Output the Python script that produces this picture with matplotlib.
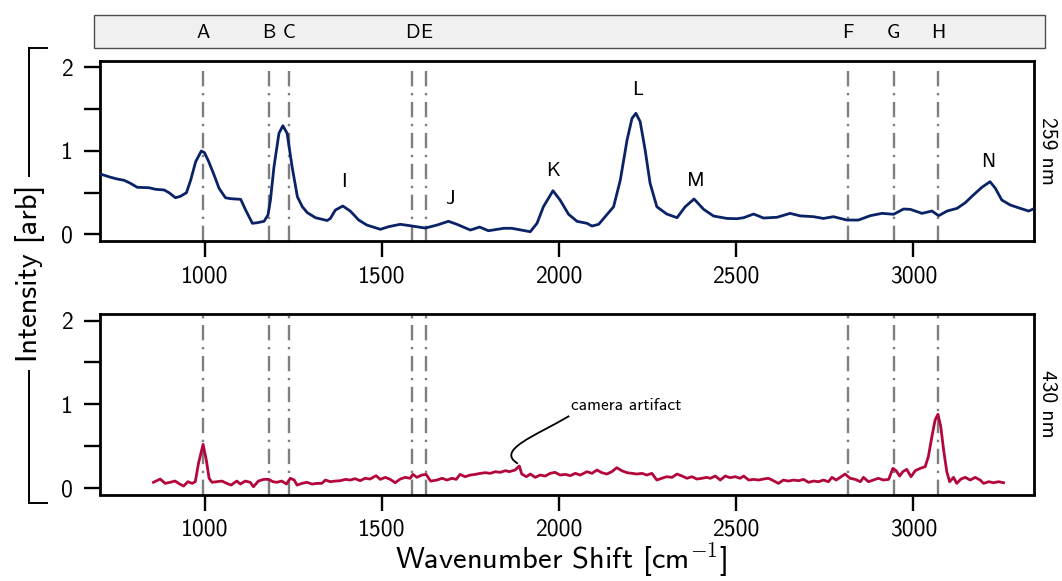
import matplotlib
matplotlib.use("Agg")
import matplotlib.pyplot as plt
import matplotlib.transforms as mtransforms
from matplotlib.lines import Line2D
from matplotlib.patches import Rectangle, PathPatch
from matplotlib.path import Path

plt.rcParams['font.family'] = ['cmss10', 'DejaVu Sans']
plt.rcParams['mathtext.fontset'] = 'cm'
plt.rcParams['axes.formatter.use_mathtext'] = True

# ---- spectra -------------------------------------------------------------
wn_259 = [706, 735, 754, 773, 791, 810, 843, 862, 886, 900, 918, 932, 949, 961, 975,
          991, 1000, 1012, 1027, 1041, 1059, 1073, 1102, 1116, 1135, 1149, 1168, 1179,
          1186, 1196, 1210, 1221, 1233, 1247, 1262, 1276, 1290, 1313, 1346, 1355, 1369,
          1390, 1411, 1435, 1458, 1496, 1519, 1552, 1580, 1623, 1656, 1688, 1712, 1750,
          1776, 1801, 1844, 1867, 1919, 1938, 1956, 1983, 2003, 2027, 2051, 2079, 2093,
          2112, 2126, 2154, 2173, 2192, 2206, 2217, 2229, 2243, 2257, 2276, 2304, 2333,
          2356, 2381, 2408, 2436, 2474, 2502, 2521, 2549, 2577, 2615, 2652, 2680, 2718,
          2746, 2774, 2812, 2845, 2878, 2911, 2944, 2972, 2991, 3024, 3052, 3071, 3095,
          3123, 3146, 3169, 3193, 3216, 3231, 3249, 3273, 3301, 3325, 3340]
int_259 = [0.722, 0.683, 0.662, 0.647, 0.611, 0.563, 0.558, 0.539, 0.531, 0.498, 0.438,
           0.455, 0.498, 0.650, 0.869, 0.998, 0.977, 0.869, 0.710, 0.551, 0.438, 0.427,
           0.419, 0.291, 0.132, 0.139, 0.156, 0.231, 0.411, 0.81, 1.21, 1.30, 1.21, 0.81,
           0.45, 0.33, 0.259, 0.199, 0.165, 0.19, 0.29, 0.339, 0.279, 0.171, 0.111, 0.06,
           0.091, 0.12, 0.103, 0.075, 0.111, 0.156, 0.12, 0.051, 0.087, 0.043, 0.072,
           0.072, 0.031, 0.132, 0.33, 0.522, 0.411, 0.24, 0.155, 0.132, 0.099, 0.12, 0.19,
           0.33, 0.65, 1.129, 1.389, 1.449, 1.349, 1.01, 0.611, 0.33, 0.243, 0.199, 0.33,
           0.423, 0.299, 0.219, 0.19, 0.187, 0.199, 0.243, 0.195, 0.204, 0.251, 0.221,
           0.211, 0.19, 0.211, 0.171, 0.171, 0.223, 0.251, 0.24, 0.303, 0.299, 0.251,
           0.279, 0.223, 0.279, 0.311, 0.378, 0.471, 0.563, 0.63, 0.551, 0.411, 0.351,
           0.311, 0.279, 0.307]

wn_430 = [856, 875, 889, 903, 917, 930, 941, 953, 965, 974, 983, 996, 1005, 1013, 1021,
          1035, 1049, 1063, 1075, 1091, 1101, 1115, 1129, 1138, 1152, 1167, 1181, 1193,
          1204, 1218, 1231, 1242, 1253, 1261, 1275, 1289, 1303, 1317, 1331, 1341, 1355,
          1369, 1383, 1397, 1411, 1425, 1439, 1453, 1467, 1484, 1496, 1510, 1524, 1538,
          1552, 1566, 1580, 1588, 1599, 1613, 1625, 1638, 1656, 1670, 1684, 1698, 1710,
          1721, 1735, 1750, 1764, 1778, 1792, 1806, 1820, 1834, 1849, 1860, 1876, 1888,
          1895, 1908, 1919, 1933, 1947, 1961, 1975, 1989, 2003, 2018, 2032, 2046, 2060,
          2079, 2093, 2107, 2121, 2135, 2149, 2163, 2177, 2192, 2206, 2220, 2234, 2248,
          2262, 2276, 2290, 2304, 2319, 2333, 2347, 2361, 2375, 2389, 2403, 2417, 2427,
          2441, 2455, 2469, 2483, 2497, 2511, 2521, 2535, 2549, 2563, 2577, 2591, 2605,
          2619, 2633, 2647, 2662, 2676, 2690, 2704, 2718, 2732, 2746, 2760, 2770, 2782,
          2793, 2807, 2821, 2836, 2850, 2859, 2873, 2887, 2901, 2915, 2930, 2942, 2951,
          2961, 2970, 2981, 2993, 3005, 3019, 3033, 3042, 3052, 3061, 3069, 3077, 3085,
          3094, 3102, 3113, 3122, 3134, 3146, 3160, 3174, 3188, 3198, 3212, 3226, 3240,
          3254]
int_430 = [0.066, 0.105, 0.053, 0.066, 0.081, 0.045, 0.021, 0.073, 0.053, 0.073, 0.293,
           0.52, 0.333, 0.114, 0.066, 0.073, 0.081, 0.053, 0.033, 0.081, 0.045, 0.081,
           0.066, 0.013, 0.081, 0.101, 0.101, 0.073, 0.066, 0.081, 0.045, 0.114, 0.093,
           0.033, 0.053, 0.066, 0.045, 0.053, 0.053, 0.093, 0.073, 0.081, 0.085, 0.101,
           0.093, 0.109, 0.085, 0.114, 0.105, 0.145, 0.101, 0.125, 0.101, 0.061, 0.105,
           0.125, 0.114, 0.161, 0.125, 0.153, 0.161, 0.08, 0.093, 0.114, 0.093, 0.114,
           0.101, 0.161, 0.133, 0.153, 0.161, 0.173, 0.181, 0.173, 0.193, 0.185, 0.205,
           0.193, 0.213, 0.261, 0.165, 0.133, 0.165, 0.125, 0.153, 0.141, 0.173, 0.185,
           0.153, 0.161, 0.145, 0.173, 0.153, 0.193, 0.173, 0.213, 0.181, 0.165, 0.193,
           0.241, 0.205, 0.181, 0.173, 0.165, 0.173, 0.153, 0.173, 0.093, 0.114, 0.133,
           0.125, 0.165, 0.141, 0.114, 0.133, 0.105, 0.114, 0.125, 0.114, 0.141, 0.093,
           0.141, 0.121, 0.133, 0.114, 0.141, 0.093, 0.101, 0.093, 0.105, 0.114, 0.085,
           0.053, 0.093, 0.081, 0.093, 0.085, 0.101, 0.065, 0.081, 0.073, 0.093, 0.073,
           0.125, 0.093, 0.125, 0.165, 0.114, 0.101, 0.073, 0.125, 0.073, 0.093, 0.114,
           0.093, 0.101, 0.233, 0.205, 0.141, 0.193, 0.221, 0.133, 0.205, 0.233, 0.253,
           0.373, 0.613, 0.812, 0.88, 0.732, 0.453, 0.193, 0.073, 0.125, 0.053, 0.105,
           0.125, 0.093, 0.125, 0.093, 0.053, 0.073, 0.061, 0.073, 0.061]

# reference band positions (cm^-1) and their letters
band_pos = [997, 1182, 1238, 1585, 1624, 2814, 2944, 3069]
band_lab = ['A', 'B', 'C', 'D', 'E', 'F', 'G', 'H']

# peak labels in the 259 nm spectrum: (position, height of label)
peak_lab = ['I', 'J', 'K', 'L', 'M', 'N']
peak_x = [1392, 1693, 1983, 2221, 2387, 3212]
peak_y = [0.63, 0.42, 0.76, 1.73, 0.64, 0.87]

# ---- layout --------------------------------------------------------------
W, H = 1062, 581
fig = plt.figure(figsize=(W / 100, H / 100), dpi=100)


def fx(px):
    return px / W


def fy(py):
    return 1 - py / H


left, right = 100.3, 1034
ax1 = fig.add_axes([fx(left), fy(241), fx(right - left), (241 - 60.6) / H])
ax2 = fig.add_axes([fx(left), fy(494.5), fx(right - left), (494.5 - 314) / H])

navy = '#0a2266'
crimson = '#b3063b'
band_kw = dict(color='#7f7f7f', lw=1.7, linestyle=(0, (6.5, 2.8, 1.0, 2.8)), zorder=1)

for ax in (ax1, ax2):
    ax.set_xlim(706, 3340)
    ax.set_ylim(-0.08, 2.08)
    ax.set_xticks([1000, 1500, 2000, 2500, 3000])
    ax.set_xticklabels(['1000', '1500', '2000', '2500', '3000'])
    ax.set_yticks([0, 0.5, 1, 1.5, 2])
    ax.set_yticklabels(['0', '', '1', '', '2'])
    ax.tick_params(direction='out', length=11.5, width=1.7, labelsize=17, pad=8)
    ax.tick_params(axis='x', pad=6)
    for s in ax.spines.values():
        s.set_linewidth(2.0)

ax1.vlines(band_pos, -0.08, 2.0, **band_kw)
for b in band_pos:
    ax2.axvline(b, **band_kw)

ax1.plot(wn_259, int_259, color=navy, lw=2.0, zorder=3)
ax2.plot(wn_430, int_430, color=crimson, lw=2.0, zorder=3)

for lab, x, y in zip(peak_lab, peak_x, peak_y):
    ax1.text(x, y, lab, ha='center', va='center', fontsize=14.5)

# right-side panel titles
fig.text(fx(1048), fy(151), '259 nm', rotation=270, ha='center', va='center', fontsize=15.5)
fig.text(fx(1048), fy(404), '430 nm', rotation=270, ha='center', va='center', fontsize=15.5)

# header strip with band letters
fig.add_artist(Rectangle((fx(94), fy(47.5)), fx(1045 - 94), (47.5 - 15.5) / H,
                         transform=fig.transFigure, facecolor='#f0f0f0',
                         edgecolor='#4d4d4d', lw=1.0))
hdr = mtransforms.blended_transform_factory(ax1.transData, fig.transFigure)
for lab, x in zip(band_lab, band_pos):
    fig.text(x, fy(32.5), lab, transform=hdr, ha='center', va='center', fontsize=14.5)

# camera artifact annotation
ax2.text(2034, 0.98, 'camera artifact', ha='left', va='center', fontsize=12.5)
verts = [(2029, 0.86), (1933, 0.62), (1820, 0.45), (1884, 0.29)]
ax2.add_patch(PathPatch(Path(verts, [Path.MOVETO, Path.CURVE4, Path.CURVE4, Path.CURVE4]),
                        facecolor='none', edgecolor='black', lw=1.3, clip_on=False))

# axis titles
fig.text(fx(561), fy(560), r'Wavenumber Shift [cm$^{-1}$]', ha='center', va='center',
         fontsize=22)
fig.text(fx(30), fy(273), 'Intensity [arb]', rotation=90, ha='center', va='center',
         fontsize=22)

# bracket spanning both panels
bx = fx(29)
for seg in [((bx, bx), (fy(48), fy(176))), ((bx, bx), (fy(371), fy(503))),
            ((bx, fx(47)), (fy(48), fy(48))), ((bx, fx(47)), (fy(503), fy(503)))]:
    fig.add_artist(Line2D(seg[0], seg[1], color='black', lw=1.4,
                          transform=fig.transFigure))

fig.savefig('out.png', dpi=100)
